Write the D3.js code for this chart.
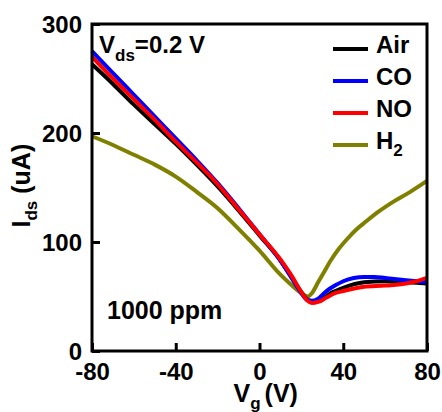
<!DOCTYPE html>
<html>
<head>
<meta charset="utf-8">
<script src="https://cdn.jsdelivr.net/npm/d3@7"></script>
<style>
  body { margin: 0; background: #fff; }
  text { font-family: "Liberation Sans", Arial, sans-serif; font-weight: bold; }
</style>
</head>
<body>
<div id="chart"></div>
<script>
// gate voltage samples (V) and drain current per gas (uA)
var vgAir = [-80, -70, -60, -50, -40, -30, -20, -10, 0, 10, 15, 20, 23, 26, 30, 35, 40, 50, 60, 70, 80];
var idsAir = [263, 245, 226, 208, 190, 171, 151, 129, 106, 83, 69, 54, 47, 45, 48, 54, 58, 63, 64, 63, 62];

var vgCO = [-80, -70, -60, -50, -40, -30, -20, -10, 0, 10, 15, 20, 22, 25, 28, 32, 36, 40, 45, 50, 55, 60, 70, 80];
var idsCO = [275, 255, 235, 215, 195, 175, 154, 131, 107, 83, 68, 53, 48, 46, 48, 55, 60, 64, 67, 68, 68, 67, 65, 63];

var vgNO = [-80, -70, -60, -50, -40, -30, -20, -10, 0, 10, 15, 20, 23, 25, 28, 32, 36, 40, 50, 60, 70, 75, 80];
var idsNO = [270, 250, 231, 212, 192, 173, 153, 130, 107, 84, 70, 54, 46, 44, 45, 49, 53, 55, 59, 60, 62, 64, 67];

var vgH2 = [-80, -70, -60, -50, -40, -30, -20, -10, 0, 10, 15, 20, 23, 25, 28, 31, 34, 38, 42, 46, 51, 57, 64, 72, 80];
var idsH2 = [197, 189, 180, 171, 160, 146, 131, 112, 92, 70, 61, 53, 50, 53, 63, 73, 83, 94, 103, 111, 119, 128, 137, 146, 156];

var xTicks = [-80, -40, 0, 40, 80];
var yTicks = [0, 100, 200, 300];

var series = [
  {name: "H2", vg: vgH2, ids: idsH2, color: "#808000"},
  {name: "Air", vg: vgAir, ids: idsAir, color: "#000000"},
  {name: "CO", vg: vgCO, ids: idsCO, color: "#0000ff"},
  {name: "NO", vg: vgNO, ids: idsNO, color: "#ff0000"}
];
var legendOrder = ["Air", "CO", "NO", "H2"];

var margin = {top: 24, right: 15, bottom: 61, left: 92},
  width = 442 - margin.left - margin.right,
  height = 412 - margin.top - margin.bottom;

var svg = d3.select("#chart")
.append("svg")
  .attr("width", 442)
  .attr("height", 412)
.append("g")
  .attr("transform", "translate(" + margin.left + "," + margin.top + ")");

var x = d3.scaleLinear().domain([-80, 80]).range([0, width]);
var y = d3.scaleLinear().domain([0, 300]).range([height, 0]);

var line = d3.line()
  .x(function(d) { return x(d[0]); })
  .y(function(d) { return y(d[1]); })
  .curve(d3.curveMonotoneX);

series.forEach(function(s) {
  var pts = s.vg.map(function(v, i) { return [v, s.ids[i]]; });
  svg.append("path")
    .datum(pts)
    .attr("fill", "none")
    .attr("stroke", s.color)
    .attr("stroke-width", 4)
    .attr("stroke-linejoin", "round")
    .attr("d", line);
});

// axes with inward ticks, plain hyphen for negatives
var fmt = function(d) { return String(d); };
var xAxis = svg.append("g")
  .attr("transform", "translate(0," + height + ")")
  .call(d3.axisBottom(x).tickValues(xTicks).tickFormat(fmt).tickSizeInner(-8).tickSizeOuter(0).tickPadding(12));
var yAxis = svg.append("g")
  .call(d3.axisLeft(y).tickValues(yTicks).tickFormat(fmt).tickSizeInner(-8).tickSizeOuter(0).tickPadding(10));

[xAxis, yAxis].forEach(function(a) {
  a.select(".domain").remove();
  a.selectAll(".tick line").attr("stroke", "#000").attr("stroke-width", 3);
  a.selectAll(".tick text").attr("font-size", 24).attr("fill", "#000")
    .style("font-family", "'Liberation Sans', Arial, sans-serif").style("font-weight", "bold");
});
xAxis.selectAll(".tick text").attr("dy", "0.71em");
yAxis.selectAll(".tick text").attr("dy", "0.36em");

// frame
svg.append("rect")
  .attr("x", 0).attr("y", 0)
  .attr("width", width).attr("height", height)
  .attr("fill", "none")
  .attr("stroke", "#000")
  .attr("stroke-width", 3);

// axis titles
var xt = svg.append("text")
  .attr("x", x(0) - 26)
  .attr("y", height + 51)
  .attr("font-size", 25);
xt.append("tspan").text("V");
xt.append("tspan").attr("font-size", 17).attr("dy", 7).text("g");
xt.append("tspan").attr("dy", -7).attr("dx", 4).text("(V)");

var yt = svg.append("text")
  .attr("transform", "translate(-62," + (height / 2 + 40) + ") rotate(-90)")
  .attr("font-size", 25);
yt.append("tspan").text("I");
yt.append("tspan").attr("font-size", 17).attr("dy", 7).text("ds");
yt.append("tspan").attr("dy", -7).text(" (uA)");

// annotations
var vt = svg.append("text")
  .attr("x", 7)
  .attr("y", 29)
  .attr("font-size", 24);
vt.append("tspan").text("V");
vt.append("tspan").attr("font-size", 17).attr("dy", 8).text("ds");
vt.append("tspan").attr("dy", -8).text("=0.2 V");

svg.append("text")
  .attr("x", 15)
  .attr("y", 295)
  .attr("font-size", 25)
  .text("1000 ppm");

// legend
var legend = svg.append("g").attr("transform", "translate(241,25)");
legendOrder.forEach(function(n, i) {
  var s = series.find(function(d) { return d.name === n; });
  var g = legend.append("g").attr("transform", "translate(0," + (i * 32) + ")");
  g.append("line")
    .attr("x1", 0).attr("x2", 35)
    .attr("y1", 0).attr("y2", 0)
    .attr("stroke", s.color)
    .attr("stroke-width", 4);
  var t = g.append("text").attr("x", 43).attr("y", 4).attr("font-size", 24);
  if (n === "H2") {
    t.append("tspan").text("H");
    t.append("tspan").attr("font-size", 17).attr("dy", 7).text("2");
  } else {
    t.text(n);
  }
});
</script>
</body>
</html>
